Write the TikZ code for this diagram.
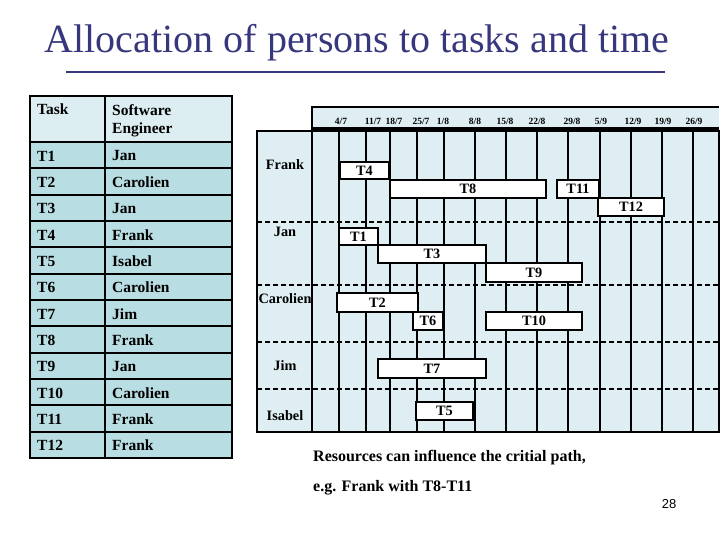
\documentclass[tikz,border=0pt]{standalone}
\usepackage{fontspec}
\setmainfont{Liberation Serif}
\setsansfont{Liberation Sans}
\usetikzlibrary{positioning}
\definecolor{titleblue}{RGB}{55,55,125}
\definecolor{rowfill}{RGB}{184,221,226}
\definecolor{headfill}{RGB}{221,238,242}
\definecolor{chartfill}{RGB}{222,238,242}

\begin{document}
\begin{tikzpicture}[x=1pt,y=-1pt,
  cell/.style={anchor=west, font=\fontsize{15.5}{17}\selectfont\bfseries, inner sep=0pt},
  who/.style={font=\fontsize{14.3}{15}\selectfont\bfseries, inner sep=0pt},
  bar/.style={draw=black, fill=white, line width=1.8pt},
  barlabel/.style={font=\fontsize{14.3}{15}\selectfont\bfseries, inner sep=0pt},
  date/.style={font=\fontsize{9.5}{10}\selectfont\bfseries, inner sep=0pt},
  grid/.style={line width=1.6pt},
  frame/.style={line width=2.2pt}
]
  \useasboundingbox (0,0) rectangle (720,540);
  % title
  \node[font=\fontsize{40}{42}\selectfont, text=titleblue, inner sep=0pt] (title) at (357,43) {Allocation of persons to tasks and time};
  \draw[titleblue, line width=1.6pt] (66,72) coordinate (ula) -- (665,72) coordinate (ulb);
  % task table
  \fill[headfill] (30,96) rectangle (232,142);
  \fill[rowfill] (30,142) rectangle (232,458);
  \foreach \i/\task/\eng in {0/T1/Jan, 1/T2/Carolien, 2/T3/Jan, 3/T4/Frank, 4/T5/Isabel, 5/T6/Carolien,
                             6/T7/Jim, 7/T8/Frank, 8/T9/Jan, 9/T10/Carolien, 10/T11/Frank, 11/T12/Frank} {
    \node[cell] (task\i) at (37,{156+26.33*\i}) {\task};
    \node[cell] (eng\i) at (112,{156+26.33*\i}) {\eng};
    \draw[frame] (30,{142+26.33*\i}) -- (232,{142+26.33*\i});
  }
  \node[cell, anchor=north west] (taskhead) at (37,104) {Task};
  \node[cell, anchor=north west, align=left] (enghead) at (112,104) {Software\\[1pt]Engineer};
  \draw[frame] (30,96) rectangle (232,458);
  \draw[frame] (105,96) -- (105,458);
  % gantt chart
  \fill[chartfill] (312,107) rectangle (719,131);
  \fill[chartfill] (257,131) rectangle (719,432);
  \foreach \x in {339,366,390,416.7,444,475,506,536.7,568,600,631,662,693}
    \draw[grid] (\x,131) -- (\x,432);
  \foreach \y in {222,285,342,389}
    \draw[grid, dash pattern=on 5pt off 3pt] (257,\y) -- (719,\y);
  \draw[frame] (312,131) |- (312,107) -- (719,107);
  \draw[line width=3.5pt] (312,128.5) -- (719,128.5);
  \draw[frame] (257,131) rectangle (719,432);
  \draw[grid] (312,131) -- (312,432);
  \foreach \x/\d in {341/{4/7}, 373/{11/7}, 394/{18/7}, 421/{25/7}, 443/{1/8},
                     475/{8/8}, 505/{15/8}, 537/{22/8}, 572/{29/8}, 601/{5/9},
                     633/{12/9}, 663/{19/9}, 694/{26/9}}
    \node[date] at (\x,121) {\d};
  % persons
  \node[who] (frank) at (285,165) {Frank};
  \node[who] (jan) at (285,232) {Jan};
  \node[who] (carolien) at (285,299) {Carolien};
  \node[who] (jim) at (285,366) {Jim};
  \node[who] (isabel) at (285,416) {Isabel};
  % task bars
  \foreach \name/\xa/\ya/\xb/\yb in {T4/340/162/389/179, T8/390/180/546/198, T11/557/180/599/198, T12/598/198/664/216,
                                     T1/339/228/378/245, T3/378/245/486/263, T9/486/263/582/282,
                                     T2/337/293/418/312, T6/413/312/443/330, T10/486/312/582/330,
                                     T7/378/359/486/378, T5/416/402/473/420} {
    \draw[bar] (\xa,\ya) rectangle (\xb,\yb);
    \node[barlabel] (\name) at ({(\xa+\xb)/2},{(\ya+\yb)/2}) {\name};
  }
  % note
  \node[cell, font=\fontsize{16}{17}\selectfont\bfseries] (note1) at (313,458) {Resources can influence the critial path,};
  \node[cell, font=\fontsize{16}{17}\selectfont\bfseries] (note2) at (313,488) {e.g. Frank with T8-T11};
  \node[font=\sffamily\fontsize{13}{14}\selectfont, inner sep=0pt] (page) at (669,504) {28};
\end{tikzpicture}
\end{document}
